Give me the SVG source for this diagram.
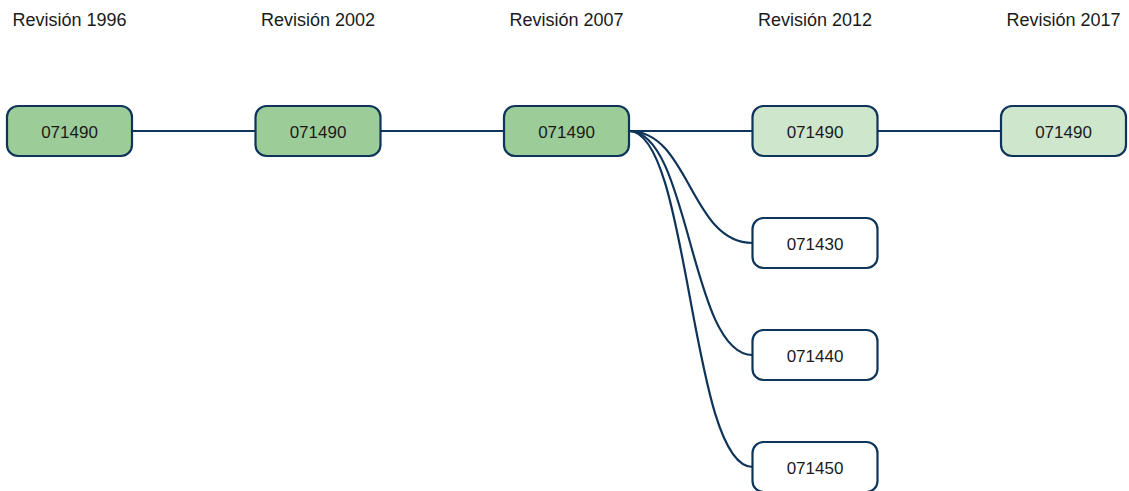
<svg xmlns="http://www.w3.org/2000/svg" width="1129" height="491" viewBox="0 0 1129 491">
<style>
.hdr{font-family:"Liberation Sans",Arial,sans-serif;font-size:18px;fill:#1a1a1a;text-anchor:middle}
.lbl{font-family:"Liberation Sans",Arial,sans-serif;font-size:17px;fill:#1a1a1a;text-anchor:middle}
.n{stroke:#0f3459;stroke-width:2.2}
.dark{fill:#9ccd98}
.light{fill:#cde6cc}
.white{fill:#ffffff}
.e{fill:none;stroke:#0f3459;stroke-width:2.2}
</style>
<rect width="1129" height="491" fill="#ffffff"/>
<g id="headers">
<text class="hdr" x="69.5" y="25.5">Revisión 1996</text>
<text class="hdr" x="318" y="25.5">Revisión 2002</text>
<text class="hdr" x="566.5" y="25.5">Revisión 2007</text>
<text class="hdr" x="815" y="25.5">Revisión 2012</text>
<text class="hdr" x="1063.5" y="25.5">Revisión 2017</text>
</g>
<g id="connectors">
<path class="e" d="M132,131 H255.5"/>
<path class="e" d="M380.5,131 H504"/>
<path class="e" d="M629,131 H752.5"/>
<path class="e" d="M877.5,131 H1001"/>
<path class="e" d="M629,131 C690,131 690,243 752.5,243"/>
<path class="e" d="M629,131 C690,131 690,355 752.5,355"/>
<path class="e" d="M629,131 C690,131 690,467 752.5,467"/>
</g>
<g id="n1996"><rect class="n dark" x="7" y="106" width="125" height="50" rx="11"/><text class="lbl" x="69.5" y="137.5">071490</text></g>
<g id="n2002"><rect class="n dark" x="255.5" y="106" width="125" height="50" rx="11"/><text class="lbl" x="318" y="137.5">071490</text></g>
<g id="n2007"><rect class="n dark" x="504" y="106" width="125" height="50" rx="11"/><text class="lbl" x="566.5" y="137.5">071490</text></g>
<g id="n2012a"><rect class="n light" x="752.5" y="106" width="125" height="50" rx="11"/><text class="lbl" x="815" y="137.5">071490</text></g>
<g id="n2017"><rect class="n light" x="1001" y="106" width="125" height="50" rx="11"/><text class="lbl" x="1063.5" y="137.5">071490</text></g>
<g id="n2012b"><rect class="n white" x="752.5" y="218" width="125" height="50" rx="11"/><text class="lbl" x="815" y="249.5">071430</text></g>
<g id="n2012c"><rect class="n white" x="752.5" y="330" width="125" height="50" rx="11"/><text class="lbl" x="815" y="361.5">071440</text></g>
<g id="n2012d"><rect class="n white" x="752.5" y="442" width="125" height="50" rx="11"/><text class="lbl" x="815" y="473.5">071450</text></g>
</svg>
